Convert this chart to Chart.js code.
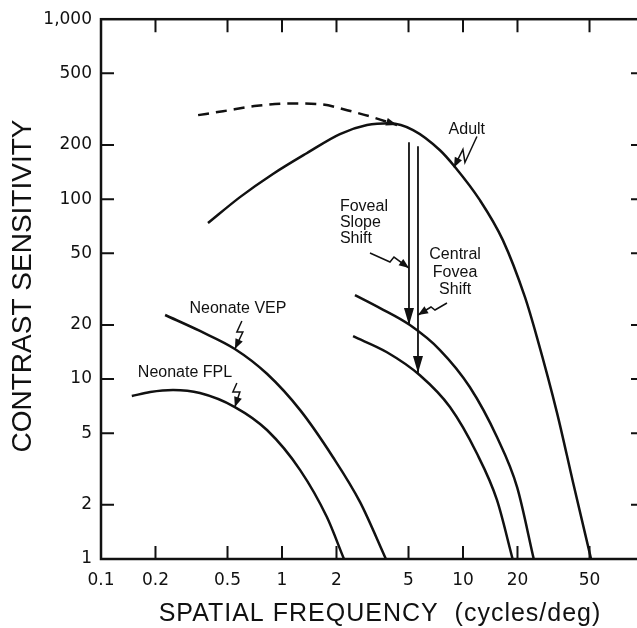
<!DOCTYPE html>
<html>
<head>
<meta charset="utf-8">
<script src="https://cdn.jsdelivr.net/npm/chart.js@4.4.1/dist/chart.umd.min.js"></script>
<style>
html, body { margin: 0; padding: 0; background: #fff; overflow: hidden; }
canvas { display: block; }
</style>
</head>
<body>
<canvas id="canvas" width="650" height="628"></canvas>
<script>
// axis ticks
const xTicks = [0.1, 0.2, 0.5, 1, 2, 5, 10, 20, 50];
const xTickLabels = ['0.1', '0.2', '0.5', '1', '2', '5', '10', '20', '50'];
const yTicks = [1, 2, 5, 10, 20, 50, 100, 200, 500, 1000];
const yTickLabels = ['1', '2', '5', '10', '20', '50', '100', '200', '500', '1,000'];

// curves (cycles/deg, sensitivity)
const adultX = [0.39, 0.586, 0.891, 1.37, 2.09, 2.95, 3.95, 5.3, 7.46, 9.03, 12.4, 16.6, 22.0, 25.6, 33.1, 40.5, 51];
const adultY = [73.6, 102.6, 138, 180, 230, 258, 264, 242, 187, 151, 98.7, 59.2, 28.5, 17.1, 6.47, 2.68, 1];
const adultLowX = [0.344, 0.472, 0.728, 1.107, 1.62, 2.29, 3.18, 4.32];
const adultLowY = [293, 308, 330, 340, 337, 312, 285, 258];
const vepX = [0.226, 0.352, 0.549, 0.826, 1.26, 1.91, 2.7, 3.75];
const vepY = [22.7, 18.5, 14.7, 10.7, 6.72, 3.69, 2.07, 1];
const fplX = [0.148, 0.187, 0.25, 0.352, 0.549, 0.826, 1.26, 1.77, 2.2];
const fplY = [8.05, 8.47, 8.69, 8.36, 6.99, 5.21, 3.12, 1.71, 1];
const slopeShiftX = [2.53, 3.48, 5.09, 7.46, 10.9, 15.4, 19.9, 24.6];
const slopeShiftY = [29.3, 24.8, 19.95, 14.5, 9.03, 4.76, 2.51, 1];
const foveaShiftX = [2.47, 3.8, 5.78, 8.47, 11.9, 15.4, 18.8];
const foveaShiftY = [17.3, 14.1, 10.5, 6.99, 3.88, 2.13, 1];
const slopeArrowX = [5.03, 5.03];
const slopeArrowY = [207, 19.95];
const foveaArrowX = [5.64, 5.64];
const foveaArrowY = [197, 10.8];

const pts = (xs, ys) => xs.map((x, i) => ({ x: x, y: ys[i] }));
const INK = '#111';

// text labels and little pointer arrows (anchored in data units)
const notes = [
  { lines: ['Adult'], x: 10.5, y: 245, align: 'center', gap: 0 },
  { lines: ['Neonate VEP'], x: 0.571, y: 24.5, align: 'center', gap: 0 },
  { lines: ['Neonate FPL'], x: 0.291, y: 10.9, align: 'center', gap: 0 },
  { lines: ['Foveal', 'Slope', 'Shift'], x: 2.09, y: 91.4, align: 'left', gap: 16 },
  { lines: ['Central', 'Fovea', 'Shift'], x: 9.04, y: 48.9, align: 'center', gap: 17.5 }
];
const pointers = [
  { x: 8.91, y: 150, path: [[23, -31], [11, -5], [9, -18]] },
  { x: 0.549, y: 14.7, path: [[7, -28], [2, -17], [8, -17]] },
  { x: 0.549, y: 6.99, path: [[2, -24], [-2, -15], [5, -15]] },
  { x: 5.03, y: 41.4, path: [[-39, -15], [-19, -6], [-15, -11]] },
  { x: 5.64, y: 22.7, path: [[29, -12], [17, -5], [13, -8]] }
];

function arrowHead(ctx, x0, y0, x1, y1, len, half) {
  const a = Math.atan2(y1 - y0, x1 - x0);
  ctx.beginPath();
  ctx.moveTo(x1, y1);
  ctx.lineTo(x1 - len * Math.cos(a) + half * Math.sin(a), y1 - len * Math.sin(a) - half * Math.cos(a));
  ctx.lineTo(x1 - len * Math.cos(a) - half * Math.sin(a), y1 - len * Math.sin(a) + half * Math.cos(a));
  ctx.closePath();
  ctx.fill();
}

const decorations = {
  id: 'decorations',
  afterDatasetsDraw(chart) {
    const ctx = chart.ctx;
    const xs = chart.scales.x, ys = chart.scales.y;
    const a = chart.chartArea;
    ctx.save();
    ctx.fillStyle = INK;
    ctx.strokeStyle = INK;

    // arrowheads at the end of flagged datasets
    chart.data.datasets.forEach((ds, i) => {
      if (!ds.arrow) return;
      const el = chart.getDatasetMeta(i).data;
      const p1 = el[el.length - 1], p0 = el[el.length - 2];
      arrowHead(ctx, p0.x, p0.y, p1.x, p1.y, ds.arrow[0], ds.arrow[1]);
    });

    // frame and inward ticks
    ctx.lineWidth = 2.5;
    ctx.strokeRect(a.left, a.top, a.right - a.left, a.bottom - a.top);
    ctx.lineWidth = 2;
    ctx.beginPath();
    xTicks.slice(1).forEach(v => {
      const px = xs.getPixelForValue(v);
      ctx.moveTo(px, a.bottom); ctx.lineTo(px, a.bottom - 13);
      ctx.moveTo(px, a.top); ctx.lineTo(px, a.top + 13);
    });
    yTicks.slice(1, -1).forEach(v => {
      const py = ys.getPixelForValue(v);
      ctx.moveTo(a.left, py); ctx.lineTo(a.left + 13, py);
      ctx.moveTo(a.right, py); ctx.lineTo(a.right - 13, py);
    });
    ctx.stroke();

    // pointers
    ctx.lineWidth = 1.5;
    pointers.forEach(p => {
      const tx = xs.getPixelForValue(p.x), ty = ys.getPixelForValue(p.y);
      ctx.beginPath();
      p.path.forEach((o, k) => {
        if (k === 0) ctx.moveTo(tx + o[0], ty + o[1]);
        else ctx.lineTo(tx + o[0], ty + o[1]);
      });
      ctx.lineTo(tx, ty);
      ctx.stroke();
      const last = p.path[p.path.length - 1];
      arrowHead(ctx, tx + last[0], ty + last[1], tx, ty, 10, 4);
    });

    // notes
    ctx.font = '16px "Liberation Sans", Arial, sans-serif';
    ctx.textBaseline = 'middle';
    notes.forEach(n => {
      const px = xs.getPixelForValue(n.x), py = ys.getPixelForValue(n.y);
      ctx.textAlign = n.align;
      n.lines.forEach((t, k) => ctx.fillText(t, px, py + k * n.gap));
    });

    // axis titles
    ctx.font = '25px "Liberation Sans", Arial, sans-serif';
    ctx.textAlign = 'center';
    ctx.letterSpacing = '1px';
    ctx.fillText('SPATIAL FREQUENCY  (cycles/deg)', 380, 614);
    ctx.translate(23, 286);
    ctx.rotate(-Math.PI / 2);
    ctx.font = '28px "Liberation Sans", Arial, sans-serif';
    ctx.letterSpacing = '0px';
    ctx.fillText('CONTRAST SENSITIVITY', 0, 0);
    ctx.restore();
  }
};

const line = (data, extra) => Object.assign({
  data: data,
  borderColor: INK,
  borderWidth: 2.5,
  pointRadius: 0,
  cubicInterpolationMode: 'monotone',
  fill: false
}, extra || {});

const ctx = document.getElementById('canvas').getContext('2d');
const myChart = new Chart(ctx, {
  type: 'line',
  data: {
    datasets: [
      line(pts(adultX, adultY)),
      line(pts(adultLowX, adultLowY), { borderDash: [11, 7], arrow: [11, 4] }),
      line(pts(vepX, vepY)),
      line(pts(fplX, fplY)),
      line(pts(slopeShiftX, slopeShiftY)),
      line(pts(foveaShiftX, foveaShiftY)),
      line(pts(slopeArrowX, slopeArrowY), { borderWidth: 1.8, cubicInterpolationMode: 'default', tension: 0, arrow: [17, 5] }),
      line(pts(foveaArrowX, foveaArrowY), { borderWidth: 1.8, cubicInterpolationMode: 'default', tension: 0, arrow: [17, 5] })
    ]
  },
  options: {
    responsive: false,
    animation: false,
    layout: { padding: { top: 19, right: 6, left: 0, bottom: 0 } },
    plugins: { legend: { display: false }, tooltip: { enabled: false } },
    scales: {
      x: {
        type: 'logarithmic',
        min: 0.1,
        max: 100,
        grid: { display: false, drawTicks: false },
        border: { display: false },
        afterBuildTicks: s => { s.ticks = xTicks.map(v => ({ value: v })); },
        afterFit: s => { s.height = 69; },
        ticks: {
          autoSkip: false,
          maxRotation: 0,
          padding: 11,
          color: INK,
          font: { family: '"DejaVu Sans", sans-serif', size: 17 },
          callback: (v, i) => xTickLabels[i]
        }
      },
      y: {
        type: 'logarithmic',
        min: 1,
        max: 1000,
        grid: { display: false, drawTicks: false },
        border: { display: false },
        afterBuildTicks: s => { s.ticks = yTicks.map(v => ({ value: v })); },
        afterFit: s => { s.width = 101; },
        ticks: {
          autoSkip: false,
          padding: 9,
          color: INK,
          font: { family: '"DejaVu Sans", sans-serif', size: 17 },
          callback: (v, i) => yTickLabels[i]
        }
      }
    }
  },
  plugins: [decorations]
});
</script>
</body>
</html>
